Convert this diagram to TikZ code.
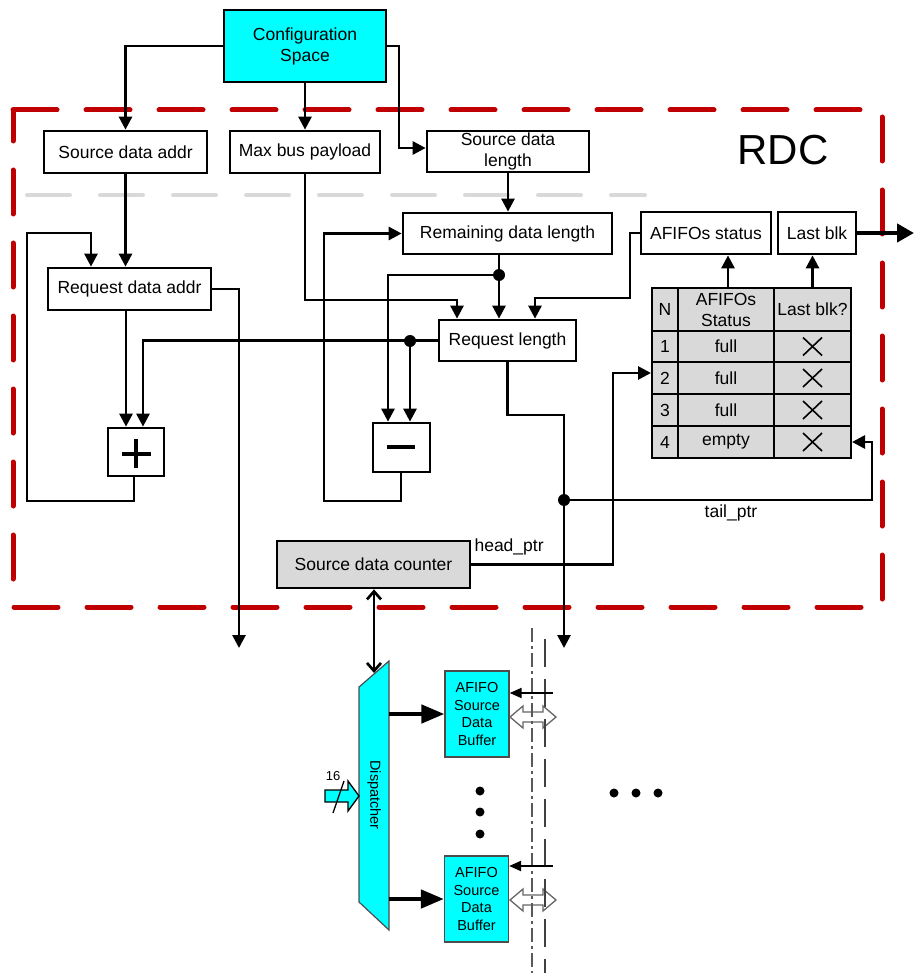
\documentclass[tikz,border=0pt]{standalone}
\usepackage{fontspec}
\setmainfont{Liberation Sans}
\usetikzlibrary{arrows.meta,calc}
\definecolor{rdcred}{HTML}{C00000}
\definecolor{cyanf}{HTML}{00FFFF}
\definecolor{cellgrey}{HTML}{D9D9D9}
\definecolor{lightdash}{HTML}{D9D9D9}
\newcommand{\fsz}{\fontsize{17.5}{21}\selectfont}
\newcommand{\fsm}{\fontsize{14.5}{17.5}\selectfont}
\begin{document}
\begin{tikzpicture}[x=1pt,y=-1pt,
  box/.style={draw, line width=2.7pt, fill=white, inner sep=0pt, align=center, font=\fsz},
  cell/.style={draw, line width=2pt, fill=cellgrey, inner sep=0pt, align=center, font=\fsz},
  fifo/.style={draw=black!70, line width=1.2pt, fill=cyanf, inner sep=0pt, align=center, font=\fsm, minimum width=64pt, minimum height=86pt},
  arr/.style={line width=2.7pt, -{Triangle[length=13pt,width=13pt]}},
  thinarr/.style={line width=2pt, -{Triangle[length=12pt,width=10pt]}},
  fatarr/.style={line width=4.5pt, -{Triangle[length=23pt,width=18pt]}},
  jdot/.style={circle, fill=black, inner sep=0pt, minimum size=12pt},
  bigdot/.style={circle, fill=black, inner sep=0pt, minimum size=9pt},
  xmark/.style={line width=1.6pt},
  openarr/.style={draw=black!60, line width=1.3pt, fill=white}
]
\useasboundingbox (0,0) rectangle (914,973);

% RDC region
\draw[rdcred, line width=5pt, line cap=round, dash pattern=on 44pt off 29pt]
  (13,110) -- (882,110) -- (882,607) -- (13,607) -- cycle;
\draw[lightdash, line width=4pt, line cap=round, dash pattern=on 43pt off 30pt]
  (27,195) -- (645,195);
\node[font=\fontsize{42}{48}\selectfont] (rdc) at (783,150) {RDC};

% boxes
\node[box, fill=cyanf, minimum width=162pt, minimum height=72pt] (cfg) at (305,46) {Configuration\\Space};
\node[box, minimum width=163pt, minimum height=42pt] (sda) at (125.5,152) {Source data addr};
\node[box, minimum width=150pt, minimum height=42pt] (mbp) at (305,152) {Max bus payload};
\node[box, minimum width=162pt, minimum height=41pt] (sdl) at (508,151.5) {Source data\\length};
\node[box, minimum width=209pt, minimum height=41pt] (rdl) at (507.5,233.5) {Remaining data length};
\node[box, minimum width=130pt, minimum height=42pt] (afs) at (706,233) {AFIFOs status};
\node[box, minimum width=78pt, minimum height=42pt] (lblk) at (817,233) {Last blk};
\node[box, minimum width=163pt, minimum height=42pt] (rda) at (129.5,289) {Request data addr};
\node[box, minimum width=137pt, minimum height=41pt] (rl) at (507.5,340.5) {Request length};
\node[box, minimum width=56pt, minimum height=48pt] (plus) at (136,452) {};
\node[box, minimum width=57pt, minimum height=49pt] (minus) at (401.5,447.5) {};
\node[box, fill=cellgrey, minimum width=193pt, minimum height=47pt] (sdc) at (373.5,564.5) {Source data counter};

\draw[line width=4.5pt] (122,454) -- (151,454) (136,439) -- (136,468);
\draw[line width=4.5pt] (387,447) -- (415,447);

% table
\node[cell, minimum width=26pt, minimum height=43pt] (c01) at (665,309.5) {N};
\node[cell, minimum width=96pt, minimum height=43pt] (c02) at (726,309.5) {AFIFOs\\Status};
\node[cell, minimum width=77pt, minimum height=43pt] (c03) at (812.5,309.5) {Last blk?};
\foreach \r/\y/\h/\s in {1/346.5/31/full, 2/378/32/full, 3/410/32/full, 4/442/32/empty}{
  \node[cell, minimum width=26pt, minimum height=\h pt] (c\r1) at (665,\y) {\r};
  \node[cell, minimum width=96pt, minimum height=\h pt] (c\r2) at (726,\y) {\s};
  \node[cell, minimum width=77pt, minimum height=\h pt] (c\r3) at (812.5,\y) {};
  \draw[xmark] ($(c\r3)+(-9.5,-9)$) -- ($(c\r3)+(9.5,9)$);
  \draw[xmark] ($(c\r3)+(-9.5,9)$) -- ($(c\r3)+(9.5,-9)$);
}

% free ends and junctions
\coordinate (rdaout) at (239,648);
\coordinate (rlout) at (564,648);
\coordinate (lbout) at (914,233);
\coordinate (j1) at (410,341);
\coordinate (j2) at (499,275);
\coordinate (j3) at (564,500);

% connectors from configuration space
\draw[arr] (cfg.west) -| (sda.north);
\draw[arr] (cfg.south) -- (mbp.north);
\draw[arr] (cfg.east) -| (399,148) -- (sdl.west |- 0,148);

% left part
\draw[arr] (sda.south) -- (sda.south |- rda.north);
\draw[arr] (134,0 |- plus.south) -- (134,501) -| (27,233) -| (91,0 |- rda.north);
\draw[arr] (126,0 |- rda.south) -- (126,0 |- plus.north);
\draw[arr] (rl.west) -| (143,0 |- plus.north);
\draw[arr] (j1) -- (j1 |- minus.north);
\draw[arr] (rda.east) -| (rdaout);

% middle part
\draw[arr] (mbp.south) |- (457,300) -- (457,0 |- rl.north);
\draw[arr] (sdl.south) -- (sdl.south |- rdl.north);
\draw[arr] (j2 |- rdl.south) -- (j2 |- rl.north);
\draw[arr] (j2) -| (388,0 |- minus.north);
\draw[arr] (401,0 |- minus.south) |- (324,501) |- (rdl.west);
\draw[arr] (afs.west) -- (630,233) |- (535,298) -- (535,0 |- rl.north);
\draw[arr] (rl.south) |- (564,415) -- (rlout);
\draw[arr] (j3) -- (872,500) |- (c43.east);
\draw[arr] (sdc.east) -| (613,373) -- (c21.west |- 0,373);
\draw[arr] (728,0 |- c02.north) -- (728,0 |- afs.south);
\draw[arr] (c03.north) -- (c03.north |- lblk.south);
\draw[line width=4.5pt, -{Triangle[length=17pt,width=18pt]}] (lblk.east) -- (lbout);

\node[jdot] at (j1) {};
\node[jdot] at (j2) {};
\node[jdot] at (j3) {};

\node[font=\fsz, anchor=west] (hp) at (471,547) {head\_ptr};
\node[font=\fsz] (tp) at (731,513) {tail\_ptr};

% dispatcher
\draw[draw=black!70, line width=1.2pt, fill=cyanf] (359,687) -- (389,661) -- (389,930) -- (359,902) -- cycle;
\node[rotate=-90, font=\fsm] (disp) at (374,795) {Dispatcher};
\coordinate (disptop) at (374,673);
\draw[line width=2.7pt, {Straight Barb[length=8pt,width=14pt]}-{Straight Barb[length=8pt,width=14pt]}] (sdc.south -| disptop) -- (disptop);

% fifo buffers
\node[fifo] (f1) at (477,714) {AFIFO\\Source\\Data\\Buffer};
\node[fifo] (f2) at (476.5,899) {AFIFO\\Source\\Data\\Buffer};
\draw[fatarr] (389,714) -- (f1.west);
\draw[fatarr] (389,899) -- (f2.west);

% input 16
\draw[black, line width=1.3pt, fill=cyanf] (325,790) -- (348,790) -- (348,781) -- (359,796) -- (348,811) -- (348,802) -- (325,802) -- cycle;
\draw[line width=1.3pt] (333,813) -- (344,781);
\node[font=\fontsize{13}{15}\selectfont] (w16) at (333,776) {16};

% dots
\node[bigdot] at (480,791) {};
\node[bigdot] at (480,812) {};
\node[bigdot] at (480,834) {};
\node[bigdot] at (614,793) {};
\node[bigdot] at (636,793) {};
\node[bigdot] at (658,793) {};

% open double arrows
\foreach \yy in {717,900}{
  \draw[openarr] (510,\yy) -- (523,\yy-11) -- (523,\yy-5) -- (543,\yy-5) -- (543,\yy-11) -- (556,\yy) -- (543,\yy+11) -- (543,\yy+5) -- (523,\yy+5) -- (523,\yy+11) -- cycle;
}

% boundary lines
\draw[black!65, line width=1.5pt, dash pattern=on 14pt off 4pt on 3pt off 4pt] (532,628) -- (532,973);
\draw[black!75, line width=2.5pt, dash pattern=on 28pt off 12pt] (545,639) -- (545,973);

% thin arrows into fifos
\draw[thinarr] (553,693) -- (f1.east |- 0,693);
\draw[thinarr] (553,866) -- (f2.east |- 0,866);

\end{tikzpicture}
\end{document}
